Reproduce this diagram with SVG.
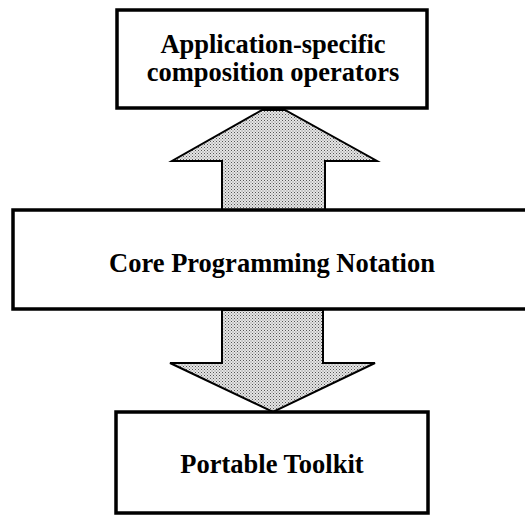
<svg xmlns="http://www.w3.org/2000/svg" width="525" height="517" viewBox="0 0 525 517">
<style>
.box{fill:#fff;stroke:#000;stroke-width:3.5}
.arr{fill:url(#dots);stroke:#000;stroke-width:2;stroke-linejoin:miter}
.lbl{font-family:"Liberation Serif","Times New Roman",serif;font-weight:bold;font-size:26.5px;text-anchor:middle;fill:#000}
</style>
<defs>
<pattern id="dots" width="3" height="3" patternUnits="userSpaceOnUse">
<rect width="3" height="3" fill="#e6e6e6"/>
<rect x="0" y="0" width="1" height="1" fill="#555"/>
<rect x="1.5" y="1.5" width="1" height="1" fill="#777"/>
</pattern>
</defs>
<g id="connectors">
<polygon class="arr" points="262,110 285,110 377,161 325,161 325,210 222,210 222,161 172,161"/>
<polygon class="arr" points="222,310 323,310 323,363 375,363 273,412 170,363 222,363"/>
</g>
<g id="node-app">
<rect class="box" x="117" y="10" width="310" height="98"/>
<text class="lbl" x="273" y="53">Application-specific</text>
<text class="lbl" x="273" y="81">composition operators</text>
</g>
<g id="node-core">
<rect class="box" x="13" y="210" width="515" height="99"/>
<text class="lbl" x="272" y="272">Core Programming Notation</text>
</g>
<g id="node-toolkit">
<rect class="box" x="116" y="412" width="312" height="101"/>
<text class="lbl" x="272" y="473">Portable Toolkit</text>
</g>
</svg>
